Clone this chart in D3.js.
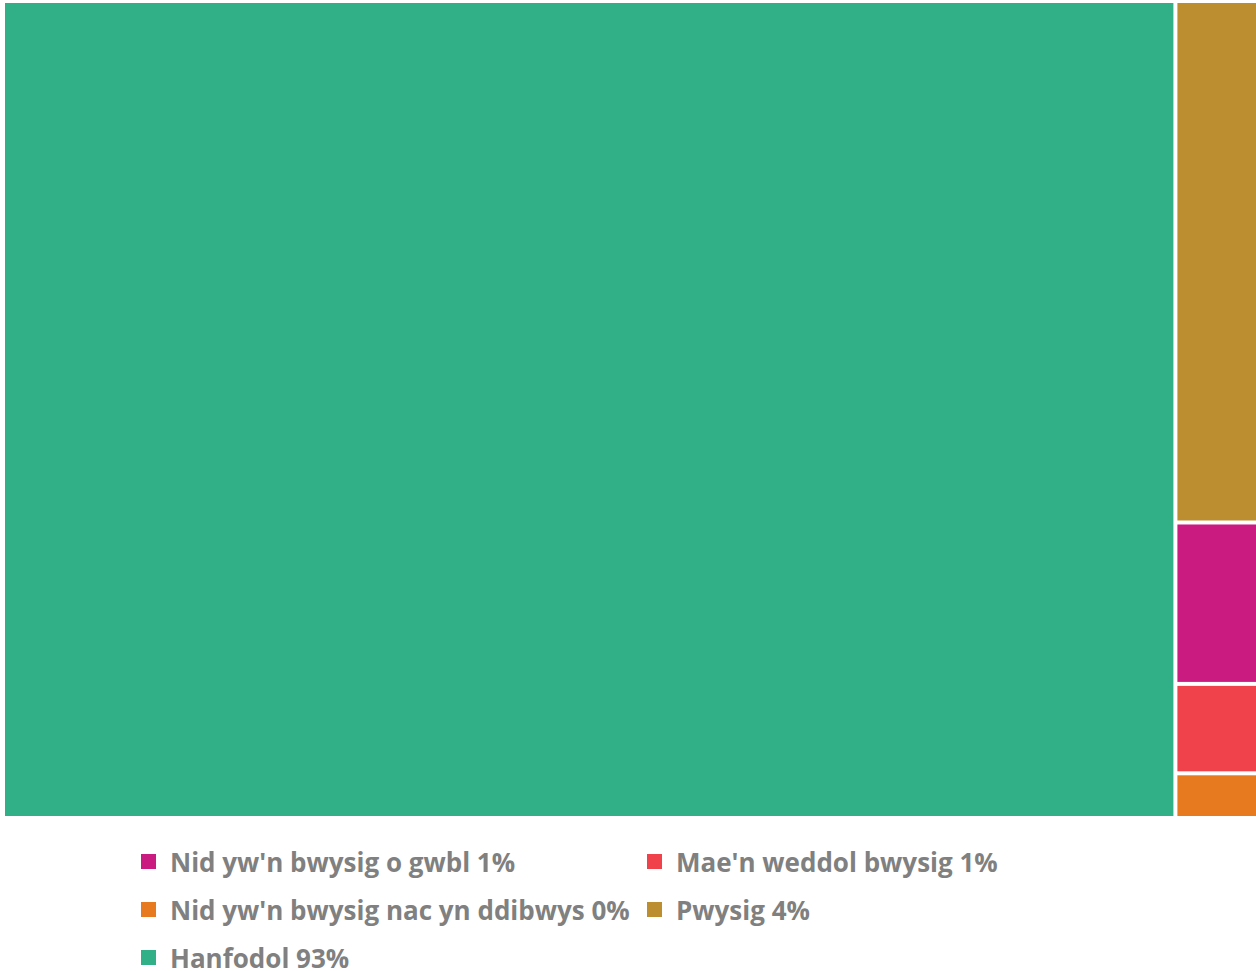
<!DOCTYPE html>
<html>
<head>
<meta charset="utf-8">
<script src="https://cdn.jsdelivr.net/npm/d3@7"></script>
<style>
  body { margin: 0; background: #fff; overflow: hidden; }
</style>
</head>
<body>
<svg id="chart" width="1256" height="971"></svg>
<script>
// categories, values (percent) and legend labels
var categories = ["Hanfodol", "Pwysig", "Nid yw'n bwysig o gwbl", "Mae'n weddol bwysig", "Nid yw'n bwysig nac yn ddibwys"];
var values = [93.4, 4.2, 1.3, 0.72, 0.36];
var labels = ["Hanfodol 93%", "Pwysig 4%", "Nid yw'n bwysig o gwbl 1%", "Mae'n weddol bwysig 1%", "Nid yw'n bwysig nac yn ddibwys 0%"];
var colors = ["#31b087", "#bc8e30", "#ca1b80", "#ef424b", "#e77a1f"];
// legend order as it appears (row by row, two columns)
var legendOrder = ["Nid yw'n bwysig o gwbl", "Mae'n weddol bwysig", "Nid yw'n bwysig nac yn ddibwys", "Pwysig", "Hanfodol"];

var svg = d3.select("#chart"),
    margin = {top: 3, right: 0, bottom: 155, left: 5},
    width = +svg.attr("width") - margin.left - margin.right,
    height = +svg.attr("height") - margin.top - margin.bottom,
    g = svg.append("g").attr("transform", "translate(" + margin.left + "," + margin.top + ")");

var color = d3.scaleOrdinal().domain(categories).range(colors);

var data = categories.map(function(c, i) {
  return {name: c, value: values[i], label: labels[i]};
});

var root = d3.hierarchy({children: data})
  .sum(function(d) { return d.value; })
  .sort(function(a, b) { return b.value - a.value; });

d3.treemap()
  .tile(d3.treemapSquarify)
  .size([width, height])
  .paddingInner(4)(root);

g.selectAll("rect")
  .data(root.leaves())
  .enter().append("rect")
  .attr("x", function(d) { return d.x0; })
  .attr("y", function(d) { return d.y0; })
  .attr("width", function(d) { return d.x1 - d.x0; })
  .attr("height", function(d) { return d.y1 - d.y0; })
  .attr("fill", function(d) { return color(d.data.name); });

var legend = svg.append("g")
  .attr("font-family", "'Open Sans', sans-serif")
  .attr("font-weight", 700)
  .attr("font-size", 26)
  .selectAll("g")
  .data(legendOrder)
  .enter().append("g")
  .attr("transform", function(d, i) {
    return "translate(" + (141 + (i % 2) * 506) + "," + (854 + Math.floor(i / 2) * 48) + ")";
  });

legend.append("rect")
  .attr("width", 15)
  .attr("height", 15)
  .attr("fill", function(d) { return color(d); });

legend.append("text")
  .attr("x", 29)
  .attr("y", 9)
  .attr("dy", "0.35em")
  .attr("fill", "#808080")
  .text(function(d) { return labels[categories.indexOf(d)]; });
</script>
</body>
</html>
